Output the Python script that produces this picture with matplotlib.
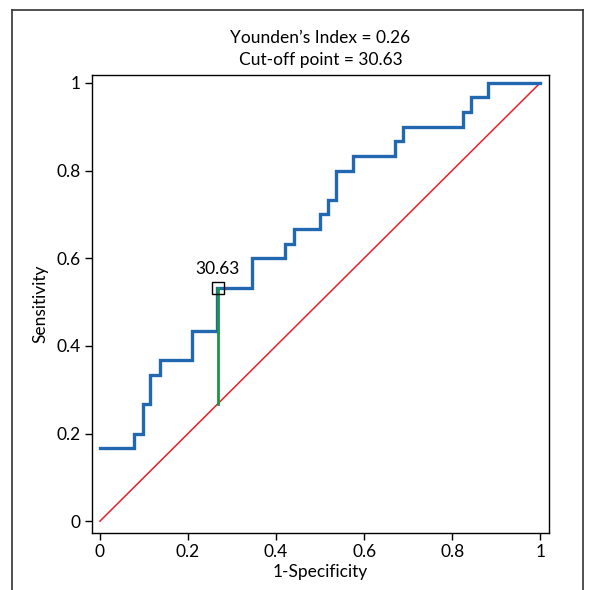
import matplotlib
matplotlib.use("Agg")
import matplotlib.pyplot as plt
from matplotlib.lines import Line2D

plt.rcParams['font.family'] = ['Lato', 'DejaVu Sans']

# ROC step curve (1-Specificity, Sensitivity)
fpr = [0.0, 0.078, 0.078, 0.097, 0.097, 0.113, 0.113, 0.136, 0.136, 0.210, 0.210,
       0.266, 0.266, 0.346, 0.346, 0.420, 0.420, 0.441, 0.441, 0.500, 0.500,
       0.518, 0.518, 0.536, 0.536, 0.575, 0.575, 0.670, 0.670, 0.689, 0.689,
       0.825, 0.825, 0.843, 0.843, 0.882, 0.882, 1.0]
tpr = [0.167, 0.167, 0.200, 0.200, 0.267, 0.267, 0.333, 0.333, 0.367, 0.367, 0.433,
       0.433, 0.533, 0.533, 0.600, 0.600, 0.633, 0.633, 0.667, 0.667, 0.700,
       0.700, 0.733, 0.733, 0.800, 0.800, 0.833, 0.833, 0.867, 0.867, 0.900,
       0.900, 0.933, 0.933, 0.967, 0.967, 1.0, 1.0]
diag = [0, 1]
cut_x = 0.268
cut_y = 0.533
cut_label = "30.63"
youden = 0.26
ticks = [0, 0.2, 0.4, 0.6, 0.8, 1]
tick_labels = ["0", "0.2", "0.4", "0.6", "0.8", "1"]

FS = 12.5

fig = plt.figure(figsize=(5.89, 5.90), dpi=100)
ax = fig.add_axes([92/589, 1-533/590, (549-92)/589, (533-75)/590])

ax.plot(diag, diag, color='#e8202a', lw=1.1, zorder=2)
ax.plot(fpr, tpr, color='#2268B0', lw=2.4, zorder=3, solid_joinstyle='miter')
ax.plot([cut_x, cut_x], [cut_x, cut_y], color='#1a9641', lw=2.0, zorder=4)
ax.plot([cut_x], [cut_y], marker='s', ms=8, mfc='none', mec='black', mew=1.0, zorder=5)
ax.text(cut_x, cut_y + 0.025, cut_label, ha='center', va='bottom', fontsize=FS)

ax.set_xlim(-0.018, 1.02)
ax.set_ylim(-0.027, 1.018)
ax.set_xticks(ticks)
ax.set_xticklabels(tick_labels)
ax.set_yticks(ticks)
ax.set_yticklabels(tick_labels)
ax.tick_params(direction='out', length=5, width=1, labelsize=FS, pad=3)
for s in ax.spines.values():
    s.set_linewidth(1.0)
ax.set_xlabel("1-Specificity", fontsize=FS, labelpad=3)
ax.set_ylabel("Sensitivity", fontsize=FS, labelpad=6)
ax.set_title(f"Younden\u2019s Index = {youden:.2f}\nCut-off point = {cut_label}",
             fontsize=FS, pad=7, linespacing=1.5)

# outer frame
fig.add_artist(Line2D([12/589, 12/589], [0, 1-10/590], transform=fig.transFigure, color='#333333', lw=1.2))
fig.add_artist(Line2D([12/589, 583/589], [1-10/590, 1-10/590], transform=fig.transFigure, color='#333333', lw=1.2))
fig.add_artist(Line2D([583/589, 583/589], [0, 1-10/590], transform=fig.transFigure, color='#333333', lw=1.2))

fig.savefig("out.png", dpi=100)
